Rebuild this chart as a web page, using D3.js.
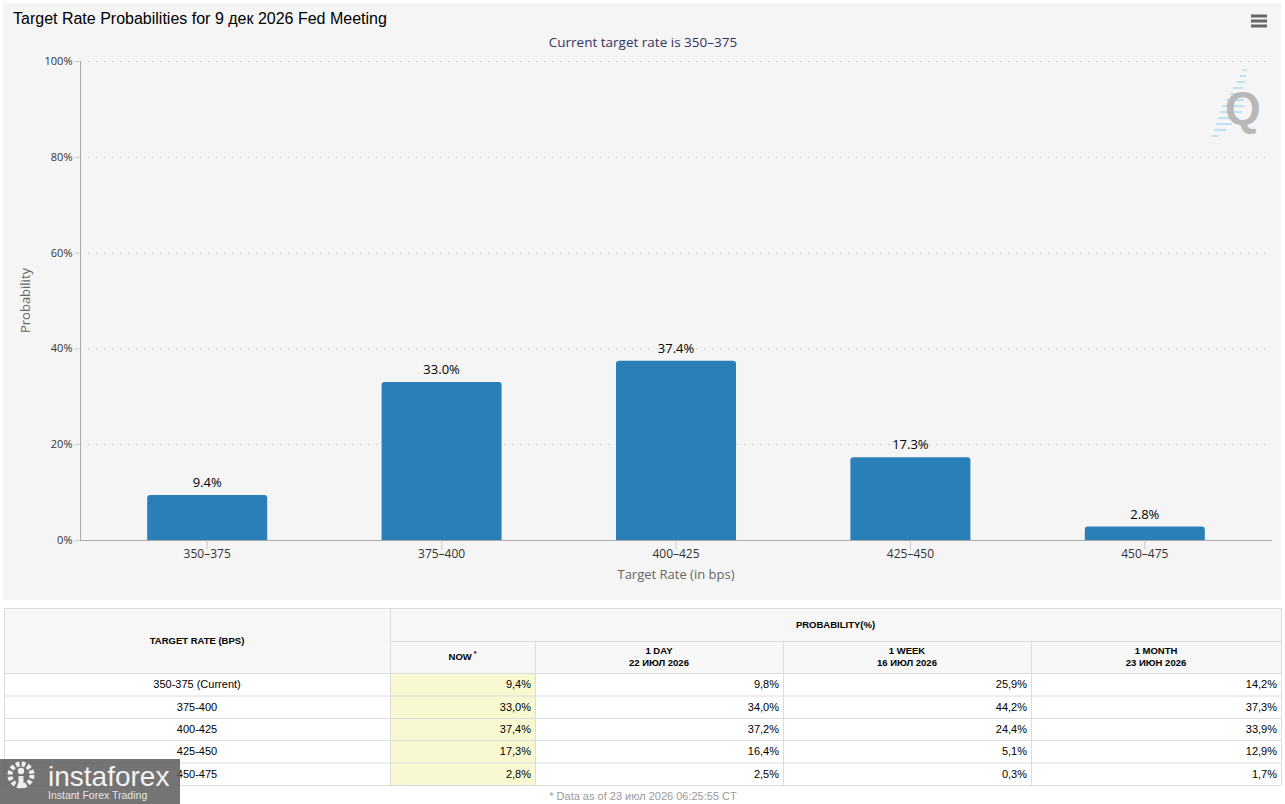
<!DOCTYPE html>
<html>
<head>
<meta charset="utf-8">
<script src="https://cdn.jsdelivr.net/npm/d3@7"></script>
<style>
  body { margin: 0; background: #fff; }
  svg { display: block; }
</style>
</head>
<body>
<svg id="chart"></svg>
<script>
// rate buckets and probabilities (%)
var categories = ['350-375', '375-400', '400-425', '425-450', '450-475'];
var nowValues = [9.4, 33.0, 37.4, 17.3, 2.8];
var dayValues = [9.8, 34.0, 37.2, 16.4, 2.5];
var weekValues = [25.9, 44.2, 24.4, 5.1, 0.3];
var monthValues = [14.2, 37.3, 33.9, 12.9, 1.7];
var yTicks = [0, 20, 40, 60, 80, 100];

var tableCols = [
  {title: ['NOW'], star: true, values: nowValues},
  {title: ['1 DAY', '22 ИЮЛ 2026'], values: dayValues},
  {title: ['1 WEEK', '16 ИЮЛ 2026'], values: weekValues},
  {title: ['1 MONTH', '23 ИЮН 2026'], values: monthValues}
];

var width = 1285;
var height = 804;
var barColor = '#2a7fb8';

var svg = d3.select('#chart')
  .attr('width', width)
  .attr('height', height);

// chart panel
svg.append('rect')
  .attr('x', 3).attr('y', 3)
  .attr('width', 1278).attr('height', 597)
  .attr('fill', '#f5f5f5');

svg.append('text')
  .attr('x', 13).attr('y', 24)
  .style('font-family', 'Liberation Sans, Arial, sans-serif')
  .style('font-size', '16px')
  .attr('fill', '#000')
  .text('Target Rate Probabilities for 9 дек 2026 Fed Meeting');

svg.append('text')
  .attr('x', 643).attr('y', 47)
  .attr('text-anchor', 'middle')
  .style('font-family', 'Open Sans, sans-serif')
  .style('font-size', '13.5px')
  .attr('fill', '#333366')
  .text('Current target rate is 350–375');

// menu icon
[16, 21, 26].forEach(function(y) {
  svg.append('line')
    .attr('x1', 1251).attr('x2', 1267)
    .attr('y1', y).attr('y2', y)
    .attr('stroke', '#666')
    .attr('stroke-width', 3);
});

// Q logo
var logo = svg.append('g');
[[1243, 70, 4], [1240, 76, 6], [1237, 82, 8], [1233, 88, 10], [1230, 94, 13], [1226, 100, 18],
 [1222, 106, 22], [1220, 112, 22], [1218, 118, 20], [1216, 124, 16], [1214, 130, 12], [1212, 136, 6]]
  .forEach(function(d) {
    logo.append('line')
      .attr('x1', d[0]).attr('x2', d[0] + d[2])
      .attr('y1', d[1]).attr('y2', d[1])
      .attr('stroke', '#a8dcf5')
      .attr('stroke-width', 1.5);
  });
logo.append('text')
  .attr('x', 1243).attr('y', 124)
  .attr('text-anchor', 'middle')
  .style('font-family', 'Liberation Sans, Arial, sans-serif')
  .style('font-weight', 'bold')
  .style('font-size', '46px')
  .attr('fill', '#b8b8b8')
  .text('Q');

// scales
var x = d3.scaleBand()
  .domain(categories)
  .range([90, 1262])
  .paddingInner(0.488)
  .paddingOuter(0.244);

var y = d3.scaleLinear()
  .domain([0, 100])
  .range([540, 61]);

// grid
svg.append('g')
  .selectAll('line')
  .data(yTicks)
  .join('line')
  .attr('x1', 80).attr('x2', 1272)
  .attr('y1', function(d) { return y(d) + 0.5; })
  .attr('y2', function(d) { return y(d) + 0.5; })
  .attr('stroke', '#d0d0d0')
  .attr('stroke-dasharray', '2,6');

// y axis
var yAxis = svg.append('g')
  .attr('transform', 'translate(80.5,0)')
  .call(d3.axisLeft(y).tickValues(yTicks).tickSize(6).tickPadding(2)
    .tickFormat(function(d) { return d + '%'; }));
yAxis.select('.domain').attr('stroke', '#aaa').attr('d', 'M0,' + y(100) + 'V' + y(0));
yAxis.selectAll('.tick line').attr('stroke', '#ccc');
yAxis.selectAll('.tick text')
  .attr('fill', '#333')
  .style('font-family', 'Open Sans, sans-serif')
  .style('font-size', '11px');

svg.append('text')
  .attr('transform', 'translate(30,' + y(50) + ') rotate(-90)')
  .attr('text-anchor', 'middle')
  .style('font-family', 'Open Sans, sans-serif')
  .style('font-size', '13px')
  .attr('fill', '#666')
  .text('Probability');

// bars (rounded top corners)
function barPath(d, i) {
  var x0 = x(d), w = x.bandwidth(), y0 = y(nowValues[i]), y1 = y(0), r = 3;
  return 'M' + x0 + ',' + y1 + 'V' + (y0 + r) + 'Q' + x0 + ',' + y0 + ' ' + (x0 + r) + ',' + y0 +
    'H' + (x0 + w - r) + 'Q' + (x0 + w) + ',' + y0 + ' ' + (x0 + w) + ',' + (y0 + r) + 'V' + y1 + 'Z';
}

svg.append('g')
  .selectAll('path')
  .data(categories)
  .join('path')
  .attr('d', barPath)
  .attr('fill', barColor);

svg.append('g')
  .selectAll('text')
  .data(categories)
  .join('text')
  .attr('x', function(d) { return x(d) + x.bandwidth() / 2; })
  .attr('y', function(d, i) { return y(nowValues[i]) - 8; })
  .attr('text-anchor', 'middle')
  .style('font-family', 'Open Sans, sans-serif')
  .style('font-size', '13px')
  .attr('fill', '#000')
  .text(function(d, i) { return nowValues[i].toFixed(1) + '%'; });

// x axis
var xAxis = svg.append('g')
  .attr('transform', 'translate(0,' + (y(0) + 0.5) + ')')
  .call(d3.axisBottom(x).tickSize(9).tickPadding(0)
    .tickFormat(function(d) { return d.replace('-', '–'); }));
xAxis.select('.domain').attr('stroke', '#aaa').attr('d', 'M80,0H1272');
xAxis.selectAll('.tick line').attr('stroke', '#ccc');
xAxis.selectAll('.tick text')
  .attr('fill', '#333')
  .style('font-family', 'Open Sans, sans-serif')
  .style('font-size', '12px');

svg.append('text')
  .attr('x', 676).attr('y', 579)
  .attr('text-anchor', 'middle')
  .style('font-family', 'Open Sans, sans-serif')
  .style('font-size', '13px')
  .attr('fill', '#666')
  .text('Target Rate (in bps)');

// table
var colEdges = [4, 390, 535, 783, 1031, 1281];
var rowEdges = [608, 641, 673, 695.5, 718, 740, 762.5, 785];
var tf = 'Liberation Sans, Arial, sans-serif';
var table = svg.append('g');

table.append('rect')
  .attr('x', colEdges[0]).attr('y', rowEdges[0])
  .attr('width', colEdges[5] - colEdges[0]).attr('height', rowEdges[2] - rowEdges[0])
  .attr('fill', '#f7f7f7');
table.append('rect')
  .attr('x', colEdges[0]).attr('y', rowEdges[2])
  .attr('width', colEdges[5] - colEdges[0]).attr('height', rowEdges[7] - rowEdges[2])
  .attr('fill', '#fff');
table.append('rect')
  .attr('x', colEdges[1]).attr('y', rowEdges[2])
  .attr('width', colEdges[2] - colEdges[1]).attr('height', rowEdges[7] - rowEdges[2])
  .attr('fill', '#f9f9d1');

// borders
var lineColor = '#dcdcdc';
rowEdges.forEach(function(r, i) {
  table.append('line')
    .attr('x1', i === 1 ? colEdges[1] : colEdges[0]).attr('x2', colEdges[5])
    .attr('y1', r + 0.5).attr('y2', r + 0.5)
    .attr('stroke', lineColor);
});
colEdges.forEach(function(c, i) {
  table.append('line')
    .attr('x1', c + 0.5).attr('x2', c + 0.5)
    .attr('y1', (i >= 2 && i <= 4) ? rowEdges[1] : rowEdges[0]).attr('y2', rowEdges[7])
    .attr('stroke', lineColor);
});

table.append('text')
  .attr('x', (colEdges[0] + colEdges[1]) / 2).attr('y', 644)
  .attr('text-anchor', 'middle')
  .style('font-family', tf).style('font-size', '9.5px').style('font-weight', 'bold')
  .text('TARGET RATE (BPS)');

table.append('text')
  .attr('x', (colEdges[1] + colEdges[5]) / 2).attr('y', 628)
  .attr('text-anchor', 'middle')
  .style('font-family', tf).style('font-size', '9.5px').style('font-weight', 'bold')
  .text('PROBABILITY(%)');

tableCols.forEach(function(col, j) {
  var cx = (colEdges[j + 1] + colEdges[j + 2]) / 2;
  var t = table.append('text')
    .attr('text-anchor', 'middle')
    .style('font-family', tf).style('font-size', '9.5px').style('font-weight', 'bold');
  if (col.title.length === 1) {
    t.append('tspan').attr('x', cx).attr('y', 660).text(col.title[0]);
    if (col.star) t.append('tspan').attr('dy', -4).style('font-size', '7px').text(' *');
  } else {
    t.append('tspan').attr('x', cx).attr('y', 654).text(col.title[0]);
    t.append('tspan').attr('x', cx).attr('y', 666).text(col.title[1]);
  }
});

categories.forEach(function(cat, i) {
  var yy = (rowEdges[i + 2] + rowEdges[i + 3]) / 2 + 4;
  table.append('text')
    .attr('x', (colEdges[0] + colEdges[1]) / 2).attr('y', yy)
    .attr('text-anchor', 'middle')
    .style('font-family', tf).style('font-size', '11px')
    .text(i === 0 ? cat + ' (Current)' : cat);
  tableCols.forEach(function(col, j) {
    table.append('text')
      .attr('x', colEdges[j + 2] - 4).attr('y', yy)
      .attr('text-anchor', 'end')
      .style('font-family', tf).style('font-size', '11px')
      .text(col.values[i].toFixed(1).replace('.', ',') + '%');
  });
});

svg.append('text')
  .attr('x', 643).attr('y', 800)
  .attr('text-anchor', 'middle')
  .style('font-family', tf).style('font-size', '11px')
  .attr('fill', '#999')
  .text('* Data as of 23 июл 2026 06:25:55 CT');

// instaforex watermark
var wm = svg.append('g');
wm.append('rect')
  .attr('x', 0).attr('y', 759)
  .attr('width', 180).attr('height', 45)
  .attr('fill', '#5c5c5c').attr('opacity', 0.85);
wm.append('circle')
  .attr('cx', 21).attr('cy', 775).attr('r', 11)
  .attr('fill', 'none').attr('stroke', '#eee').attr('stroke-width', 5)
  .attr('stroke-dasharray', '3.6,2.2');
wm.append('circle')
  .attr('cx', 21).attr('cy', 771).attr('r', 3.2).attr('fill', '#eee');
wm.append('rect')
  .attr('x', 18.5).attr('y', 776).attr('width', 5).attr('height', 12).attr('fill', '#eee');
wm.append('text')
  .attr('x', 48).attr('y', 786)
  .style('font-family', 'Liberation Sans, Arial, sans-serif')
  .style('font-size', '28px')
  .attr('fill', '#f2f2f2')
  .text('instaforex');
wm.append('text')
  .attr('x', 48).attr('y', 799)
  .style('font-family', 'Liberation Sans, Arial, sans-serif')
  .style('font-size', '10.5px')
  .attr('fill', '#e6e6e6')
  .text('Instant Forex Trading');
</script>
</body>
</html>
